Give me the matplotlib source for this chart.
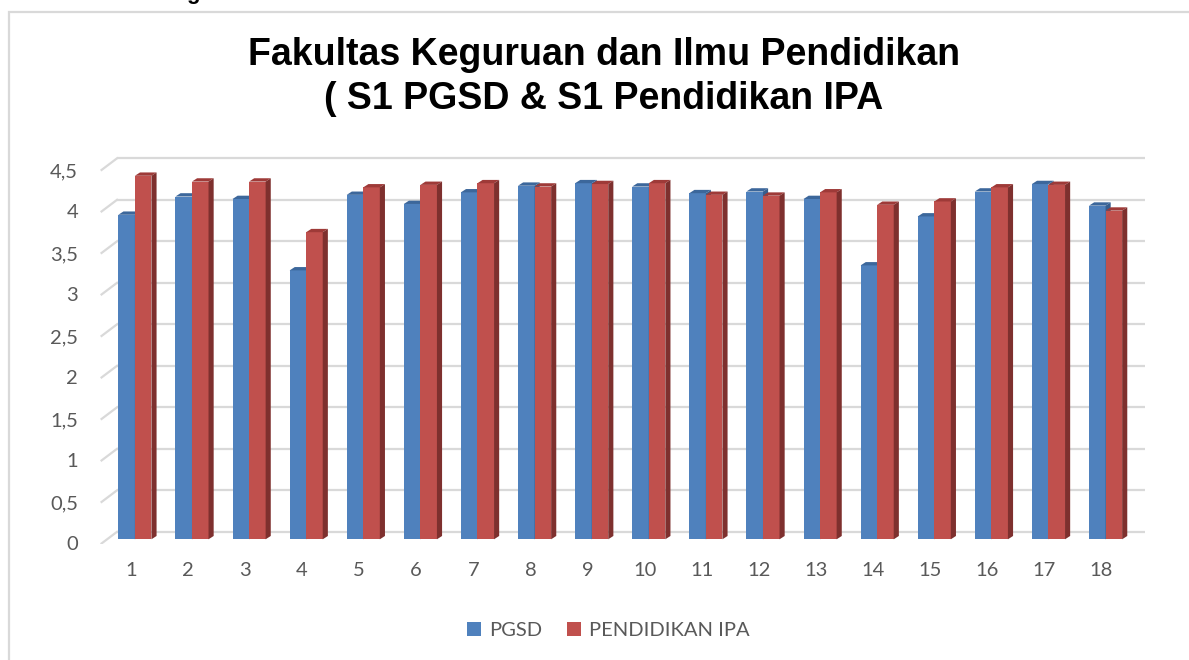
"""Faux-3D clustered column chart: FKIP scores, S1 PGSD vs S1 Pendidikan IPA."""

import matplotlib
matplotlib.use("Agg")
import matplotlib.pyplot as plt
import numpy as np
from matplotlib.patches import Patch, Polygon, Rectangle

# ── Data ──────────────────────────────────────────────────────────────────
categories = [str(i) for i in range(1, 19)]
pgsd = [3.91, 4.13, 4.10, 3.24, 4.15, 4.04, 4.18, 4.26, 4.29,
        4.25, 4.17, 4.19, 4.10, 3.30, 3.89, 4.19, 4.28, 4.02]
pend_ipa = [4.38, 4.31, 4.31, 3.70, 4.24, 4.27, 4.29, 4.25, 4.28,
            4.29, 4.15, 4.14, 4.18, 4.03, 4.07, 4.24, 4.27, 3.96]
series_names = ["PGSD", "PENDIDIKAN IPA"]
y_ticks = [0, 0.5, 1, 1.5, 2, 2.5, 3, 3.5, 4, 4.5]
y_tick_labels = ["0", "0,5", "1", "1,5", "2", "2,5", "3", "3,5", "4", "4,5"]
title = "Fakultas Keguruan dan Ilmu Pendidikan\n( S1 PGSD & S1 Pendidikan IPA"

# ── Palette (Office 2007 look) ────────────────────────────────────────────
BLUE, BLUE_TOP, BLUE_SIDE = "#4F81BD", "#3C679B", "#375E8E"
RED, RED_TOP, RED_SIDE = "#C0504D", "#9E3A38", "#7E302E"
GRID = "#D9D9D9"
TEXT = "#595959"

# ── Layout (pixels of the 1189 x 660 canvas) ──────────────────────────────
W, H, DPI = 1189, 660, 100
X0_PX, X_STEP = 130.7, 57.1     # pixel of category 1, pixels per category
Y0_PX, Y_STEP = 539.3, 83.0     # pixel of value 0, pixels per unit
XLIM = (0.3, 19.0)
YLIM = (-0.06, 4.8)

BAR_W = 0.29
BLUE_OFF = -0.217
DX, DY = 0.09, 0.04            # depth of the bars (data units)
BACK_DY = 0.09                  # back wall sits above the bar scale
FRONT_DY = -0.05                # front edge of the side wall
WALL_X0, WALL_X1, WALL_END = 0.49, 0.76, 18.76
FONT_SIZE = 14.5

fig = plt.figure(figsize=(W / DPI, H / DPI), dpi=DPI, facecolor="white")
left = (X0_PX + X_STEP * (XLIM[0] - 1)) / W
width = X_STEP * (XLIM[1] - XLIM[0]) / W
top_px = Y0_PX - Y_STEP * YLIM[1]
bot_px = Y0_PX - Y_STEP * YLIM[0]
ax = fig.add_axes([left, 1 - bot_px / H, width, (bot_px - top_px) / H])
ax.set_xlim(*XLIM)
ax.set_ylim(*YLIM)
for s in ax.spines.values():
    s.set_visible(False)

# outer chart frame
fig.add_artist(Rectangle((9 / W, -0.2), 1.2, 1 - 12 / H + 0.2,
                         transform=fig.transFigure, fill=False,
                         ec=GRID, lw=1.6))
# heading above the frame, cut off by the top edge as in the source
fig.text(193 / W, 1 + 1 / H, "g", fontsize=16, fontweight="bold",
         family="Liberation Sans", ha="center", va="baseline")

# walls: back gridlines + slanted side-wall lines
for v in y_ticks:
    ax.plot([WALL_X1, WALL_END], [v + BACK_DY] * 2, color=GRID, lw=1.6,
            zorder=1, solid_capstyle="butt")
    ax.plot([WALL_X0, WALL_X1], [v + FRONT_DY, v + BACK_DY], color=GRID,
            lw=1.6, zorder=1)

# bars
x = np.arange(1, len(categories) + 1)


def draw_series(xs, vals, face, top, side, z):
    bars = ax.bar(xs, vals, width=BAR_W, align="edge", color=face,
                  edgecolor="none", zorder=z)
    for b in bars:
        x0, w, h = b.get_x(), b.get_width(), b.get_height()
        ax.add_patch(Polygon([(x0, h), (x0 + w, h), (x0 + w + DX, h + DY),
                              (x0 + DX, h + DY)], closed=True, fc=top,
                             ec="none", zorder=z))
        ax.add_patch(Polygon([(x0 + w, 0), (x0 + w + DX, DY),
                              (x0 + w + DX, h + DY), (x0 + w, h)],
                             closed=True, fc=side, ec="none", zorder=z))


for i in range(len(categories)):
    draw_series([x[i] + BLUE_OFF], [pgsd[i]], BLUE, BLUE_TOP, BLUE_SIDE, 2 + 2 * i)
    draw_series([x[i] + BLUE_OFF + BAR_W], [pend_ipa[i]], RED, RED_TOP,
                RED_SIDE, 3 + 2 * i)

# axes text
ax.set_xticks(x)
ax.set_xticklabels(categories)
ax.set_yticks(np.array(y_ticks) + FRONT_DY)
ax.set_yticklabels(y_tick_labels)
ax.tick_params(length=0, labelsize=FONT_SIZE, labelcolor=TEXT)
ax.tick_params(axis="x", pad=13)
ax.tick_params(axis="y", pad=9)
for lbl in ax.get_xticklabels() + ax.get_yticklabels():
    lbl.set_family("Lato")

fig.text(604 / W, 1 - 37 / H, title, ha="center", va="top", fontsize=27,
         fontweight="bold", family="Liberation Sans", linespacing=1.28)

handles = [Patch(fc=BLUE, ec="none"), Patch(fc=RED, ec="none")]
leg = fig.legend(handles, series_names, loc="center",
                 bbox_to_anchor=(608.5 / W, 1 - 630.7 / H), ncol=2,
                 frameon=False, handlelength=0.7, handleheight=0.7,
                 handletextpad=0.4, columnspacing=1.2,
                 prop={"family": "Lato", "size": FONT_SIZE})
for t in leg.get_texts():
    t.set_color(TEXT)

fig.savefig("out.png", dpi=DPI, facecolor="white")
